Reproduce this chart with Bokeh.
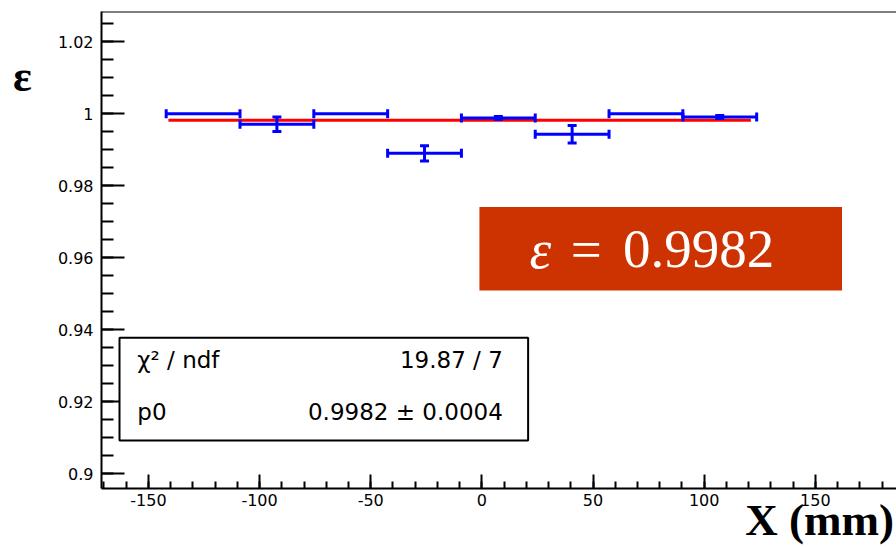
from bokeh.plotting import figure
from bokeh.models import (Range1d, SingleIntervalTicker, CustomJSTickFormatter,
                          Span, Label, BoxAnnotation)
from bokeh.embed import file_html
from bokeh.resources import INLINE

# ---------------- data ----------------
x_centers = [-125.4, -92.2, -59.0, -25.8, 7.4, 40.6, 73.8, 107.0]
x_halfwidth = [16.6, 16.6, 16.6, 16.6, 16.6, 16.6, 16.6, 16.6]
eff = [1.0, 0.9971, 1.0, 0.9890, 0.9988, 0.9943, 1.0, 0.9991]
eff_err = [0.0, 0.0020, 0.0, 0.0021, 0.0004, 0.0024, 0.0, 0.0004]
fit_value = 0.9982
fit_error = 0.0004
fit_range = [-141.0, 121.0]
chi2 = 19.87
ndf = 7
x_title = "X (mm)"
y_title = "ε"

X_START, X_END = -171.1, 186.5
Y_START, Y_END = 0.8959, 1.0284

p = figure(width=896, height=547, output_backend="svg", toolbar_location=None,
           x_range=Range1d(X_START, X_END), y_range=Range1d(Y_START, Y_END),
           min_border_left=101, min_border_right=0, min_border_top=11,
           min_border_bottom=59)
p.background_fill_color = "white"
p.border_fill_color = "white"
p.outline_line_color = None
p.xgrid.visible = False
p.ygrid.visible = False

# axes (ROOT style: inward ticks)
p.xaxis.ticker = SingleIntervalTicker(interval=50, num_minor_ticks=5)
p.yaxis.ticker = SingleIntervalTicker(interval=0.02, num_minor_ticks=4)
p.xaxis.formatter = CustomJSTickFormatter(code="return String(Math.round(tick));")
p.yaxis.formatter = CustomJSTickFormatter(code="return String(Number(tick.toFixed(4)));")
for ax in (p.xaxis[0], p.yaxis[0]):
    ax.axis_line_color = "black"
    ax.axis_line_width = 2
    ax.major_tick_line_color = "black"
    ax.major_tick_line_width = 2
    ax.minor_tick_line_color = "black"
    ax.minor_tick_line_width = 2
    ax.major_tick_out = 0
    ax.minor_tick_out = 0
    ax.major_label_text_font = "DejaVu Sans"
    ax.major_label_text_font_size = "16px"
    ax.major_label_text_color = "black"
    ax.axis_label_text_font = "Liberation Serif"
    ax.axis_label_text_font_style = "bold"
    ax.axis_label_text_color = "black"
p.yaxis.major_tick_in = 23
p.yaxis.minor_tick_in = 12
p.yaxis.major_label_standoff = 8
p.xaxis.major_tick_in = 14
p.xaxis.minor_tick_in = 7
p.xaxis.major_label_standoff = 5

# axis titles (ROOT style: at the end of the axes)
NBSP = "\u00a0"
p.xaxis.axis_label = NBSP * 57 + x_title
p.xaxis.axis_label_text_font_size = "45px"
p.xaxis.axis_label_standoff = -14
p.yaxis.axis_label = (NBSP + "\n") * 3 + y_title
p.yaxis.axis_label_text_font_size = "44px"
p.yaxis.axis_label_text_line_height = 0.88
p.yaxis.axis_label_orientation = "horizontal"
p.yaxis.axis_label_standoff = 23
if "axis_label_align" in p.yaxis[0].properties():
    p.yaxis.axis_label_align = "end"

p.add_layout(Span(location=Y_END, dimension="width", line_color="black", line_width=2))

# fit line
p.line(fit_range, [fit_value, fit_value], line_color="#ff0000", line_width=3)

# data points with error bars
x_lo = [c - h for c, h in zip(x_centers, x_halfwidth)]
x_hi = [c + h for c, h in zip(x_centers, x_halfwidth)]
blue = "#0000ff"
p.segment(x0=x_lo, y0=eff, x1=x_hi, y1=eff, line_color=blue, line_width=3)
p.scatter(x=x_lo + x_hi, y=eff + eff, marker="dash", size=9, angle=1.5708,
          line_color=blue, line_width=3)
vx = [c for c, e in zip(x_centers, eff_err) if e > 0]
vy = [y for y, e in zip(eff, eff_err) if e > 0]
ve = [e for e in eff_err if e > 0]
y_lo = [y - e for y, e in zip(vy, ve)]
y_hi = [y + e for y, e in zip(vy, ve)]
p.segment(x0=vx, y0=y_lo, x1=vx, y1=y_hi, line_color=blue, line_width=3)
p.scatter(x=vx + vx, y=y_lo + y_hi, marker="dash", size=9,
          line_color=blue, line_width=3)

# stats box
p.add_layout(BoxAnnotation(left=-163.0, right=20.8, top=0.93778, bottom=0.90925,
                           fill_color="white", fill_alpha=1.0,
                           line_color="black", line_width=2, line_alpha=1.0))
stat_font = dict(text_font="DejaVu Sans", text_font_size="23px",
                 text_color="black", text_baseline="alphabetic")
p.add_layout(Label(x=-155.0, y=0.93149, text="χ² / ndf", text_align="left", **stat_font))
p.add_layout(Label(x=9.4, y=0.93149, text=f"{chi2:.2f} / {ndf}", text_align="right", **stat_font))
p.add_layout(Label(x=-155.0, y=0.91713, text="p0", text_align="left", **stat_font))
p.add_layout(Label(x=9.4, y=0.91713, text=f"{fit_value:.4f} ± {fit_error:.4f}",
                   text_align="right", **stat_font))

# highlighted result box
p.add_layout(BoxAnnotation(left=-1.1, right=162.0, top=0.97406, bottom=0.95092,
                           fill_color="#cc3300", fill_alpha=1.0, line_color=None))
res_font = dict(text_font="Liberation Serif", text_font_size="55px",
                text_color="white", text_baseline="alphabetic")
p.add_layout(Label(x=21.4, y=0.96239, text="ε", text_align="left",
                   text_font_style="italic", **res_font))
p.add_layout(Label(x=47.0, y=0.96239, text="=", text_align="center", **res_font))
p.add_layout(Label(x=63.5, y=0.96239, text=f"{fit_value:.4f}", text_align="left", **res_font))

open("out.html", "w").write(file_html(p, INLINE))
